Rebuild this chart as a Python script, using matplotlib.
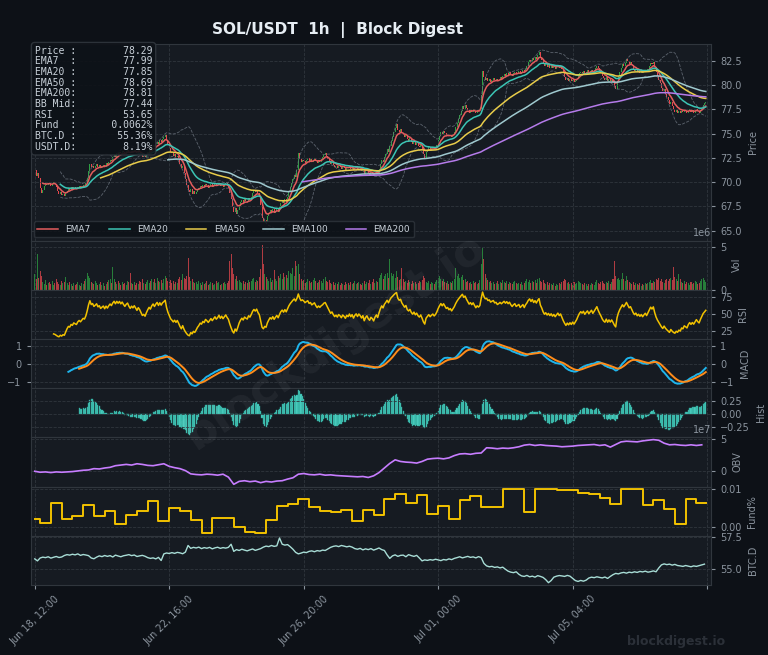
import numpy as np
import pandas as pd
import matplotlib
matplotlib.use('Agg')
import matplotlib.pyplot as plt
import matplotlib.dates as mdates

# hourly closes, Jun 18 12:00 onwards (one row = one day)
closes = [
    71.25, 70.62, 70.95, 70.41, 69.35, 68.92, 69.18, 69.64, 69.85, 69.71, 69.93, 69.88, 69.62, 69.79, 70.02, 69.84, 69.45, 69.03, 68.81, 68.95, 68.62, 68.74, 68.55, 68.83,
    69.12, 69.34, 69.21, 69.45, 69.30, 69.52, 69.38, 69.27, 69.49, 69.61, 69.44, 69.58, 69.72, 69.65, 69.91, 70.38, 71.15, 71.88, 71.52, 71.70, 71.43, 71.62, 71.85, 71.57,
    71.74, 71.49, 71.66, 71.81, 71.58, 71.92, 71.75, 72.05, 72.31, 72.18, 72.56, 72.83, 72.64, 73.02, 72.88, 73.15, 72.97, 73.24, 73.06, 72.91, 73.18, 73.35, 73.12, 72.95,
    73.21, 73.08, 73.33, 73.15, 72.98, 73.26, 73.11, 72.87, 72.62, 72.71, 72.55, 72.84, 73.12, 73.38, 73.25, 73.61, 73.84, 73.66, 73.95, 74.18, 73.97, 74.32, 74.15, 74.46,
    74.62, 74.85, 74.31, 73.88, 73.52, 73.14, 72.95, 72.71, 72.86, 72.58, 72.74, 72.36, 71.85, 71.42, 71.68, 70.95, 70.31, 69.72, 69.18, 68.95, 69.24, 68.82, 69.05, 68.74,
    68.96, 69.21, 69.38, 69.62, 69.45, 69.71, 69.53, 69.84, 69.66, 69.42, 69.58, 69.77, 69.51, 69.68, 69.86, 69.59, 69.73, 69.95, 69.62, 69.81, 69.54, 69.70, 69.88, 69.63,
    69.42, 68.85, 68.21, 67.45, 66.92, 67.28, 66.75, 67.12, 67.58, 67.91, 68.15, 67.86, 68.22, 68.05, 67.92, 68.31, 68.12, 68.44, 68.86, 69.12, 68.94, 69.21, 68.83, 68.57,
    67.65, 66.28, 65.84, 66.12, 65.91, 66.45, 66.82, 67.15, 66.91, 67.24, 66.78, 67.06, 67.32, 66.95, 67.41, 67.86, 68.12, 67.84, 68.25, 67.96, 68.48, 69.05, 69.52, 69.91,
    70.35, 70.72, 70.48, 71.26, 72.95, 72.41, 72.05, 72.33, 72.18, 71.96, 72.24, 72.47, 72.15, 72.36, 72.08, 72.29, 72.52, 72.21, 71.98, 72.27, 72.12, 72.38, 72.55, 72.84,
    72.96, 72.71, 72.43, 72.15, 71.88, 72.05, 71.76, 71.52, 71.68, 71.45, 71.71, 71.58, 71.36, 71.62, 71.49, 71.27, 71.54, 71.41, 71.65, 71.38, 71.57, 71.22, 71.46, 71.61,
    71.35, 71.58, 71.42, 71.18, 71.39, 70.82, 71.11, 71.27, 70.95, 70.76, 71.02, 70.88, 70.61, 70.93, 71.15, 70.87, 71.34, 71.82, 72.25, 72.06, 72.61, 72.94, 73.38, 73.15,
    73.72, 74.28, 74.65, 75.12, 75.58, 75.96, 75.42, 75.21, 75.46, 75.08, 74.85, 74.62, 74.91, 74.45, 74.28, 74.52, 74.16, 73.94, 74.21, 73.87, 74.08, 73.76, 73.58, 73.82,
    73.41, 72.85, 72.46, 73.12, 73.35, 73.58, 73.29, 73.47, 73.62, 73.38, 73.55, 73.86, 74.32, 74.75, 75.14, 74.92, 75.28, 75.06, 74.81, 74.95, 74.72, 74.88, 74.65, 74.93,
    75.21, 75.68, 76.12, 76.54, 76.95, 77.38, 77.82, 77.56, 77.91, 77.64, 77.42, 77.18, 77.45, 77.26, 77.58, 77.35, 77.12, 77.41, 77.29, 77.52, 78.95, 81.42, 80.86, 80.54,
    80.71, 80.42, 80.63, 80.35, 80.58, 80.76, 80.49, 80.62, 80.38, 80.55, 80.81, 80.67, 80.92, 81.15, 80.98, 81.26, 81.08, 81.34, 81.12, 80.96, 81.21, 81.38, 81.15, 81.29,
    81.42, 81.18, 81.36, 81.55, 81.32, 81.68, 81.94, 82.35, 82.61, 82.42, 82.78, 82.55, 82.86, 82.68, 83.12, 83.45, 82.91, 82.64, 82.25, 81.96, 82.14, 81.88, 82.06, 81.82,
    82.01, 81.75, 81.93, 81.68, 81.86, 82.04, 81.79, 81.95, 81.62, 81.21, 80.85, 80.52, 80.71, 80.45, 80.62, 80.38, 80.57, 80.29, 80.48, 80.66, 80.95, 81.22, 81.41, 81.28,
    81.46, 81.19, 81.37, 81.52, 81.28, 81.45, 81.61, 81.36, 81.55, 81.78, 82.02, 81.74, 81.49, 81.26, 80.95, 80.72, 80.58, 80.81, 80.46, 80.64, 80.39, 80.55, 80.28, 79.92,
    79.65, 80.42, 80.95, 81.38, 81.76, 82.15, 81.94, 82.28, 82.72, 82.45, 82.18, 82.36, 82.05, 81.72, 81.48, 81.66, 81.35, 81.52, 81.28, 81.47, 81.22, 81.41, 81.58, 81.34,
    81.62, 81.95, 82.31, 82.14, 82.42, 81.86, 81.34, 80.92, 80.55, 80.18, 79.72, 79.35, 79.58, 79.12, 78.76, 78.42, 78.05, 78.31, 77.86, 77.52, 77.28, 77.45, 77.18, 77.36,
    77.12, 77.38, 77.21, 77.46, 77.29, 77.08, 77.35, 77.52, 77.26, 77.41, 77.18, 77.36, 77.55, 77.31, 77.14, 77.42, 77.68, 77.95, 78.12, 78.29,
]

# hourly volume in units of 1e5
volumes = [
    18, 12, 42, 14, 22, 16, 9, 7, 11, 6, 8, 9, 7, 10, 6, 8, 12, 9, 7, 6, 10, 8, 9, 15,
    8, 6, 9, 7, 5, 8, 6, 7, 9, 6, 5, 8, 7, 10, 12, 20, 16, 14, 9, 8, 7, 10, 8, 6,
    7, 9, 6, 8, 5, 7, 9, 11, 13, 8, 26, 12, 9, 7, 10, 8, 6, 9, 7, 8, 6, 10, 9, 20,
    8, 7, 9, 6, 8, 7, 10, 9, 12, 8, 7, 9, 11, 8, 10, 13, 9, 12, 8, 14, 10, 9, 11, 8,
    12, 16, 14, 10, 9, 11, 8, 10, 7, 9, 8, 12, 15, 11, 18, 14, 13, 16, 37, 15, 10, 12, 9, 8,
    9, 7, 10, 8, 6, 9, 7, 8, 10, 6, 7, 9, 8, 6, 7, 10, 8, 9, 6, 7, 8, 9, 7, 8,
    10, 33, 42, 25, 18, 12, 16, 10, 11, 9, 8, 10, 7, 9, 8, 11, 9, 10, 12, 14, 9, 11, 10, 15,
    24, 52, 30, 18, 15, 12, 10, 14, 9, 11, 23, 12, 10, 16, 14, 18, 12, 20, 15, 17, 14, 22, 19, 18,
    25, 16, 34, 28, 30, 18, 12, 10, 11, 8, 9, 12, 10, 8, 9, 11, 14, 10, 8, 9, 11, 10, 8, 12,
    15, 10, 9, 11, 8, 7, 9, 6, 8, 7, 9, 6, 8, 7, 6, 9, 7, 8, 6, 9, 7, 8, 10, 7,
    8, 9, 7, 6, 8, 10, 7, 9, 8, 11, 7, 9, 12, 8, 10, 9, 14, 17, 19, 12, 16, 18, 20, 14,
    36, 20, 16, 18, 14, 22, 15, 11, 13, 25, 12, 9, 10, 8, 11, 9, 7, 10, 8, 9, 7, 8, 10, 9,
    11, 16, 14, 9, 8, 10, 7, 9, 8, 7, 9, 11, 14, 16, 13, 10, 12, 9, 8, 10, 7, 9, 8, 10,
    12, 25, 16, 18, 14, 15, 17, 11, 12, 9, 10, 8, 9, 7, 10, 8, 9, 7, 8, 11, 30, 49, 36, 18,
    14, 11, 9, 10, 8, 9, 7, 8, 10, 7, 9, 8, 11, 9, 8, 10, 7, 9, 8, 7, 9, 10, 8, 7,
    8, 7, 9, 6, 8, 10, 12, 9, 11, 8, 10, 9, 11, 8, 12, 14, 10, 9, 11, 8, 7, 9, 6, 8,
    7, 6, 8, 5, 7, 6, 8, 7, 9, 10, 12, 11, 8, 9, 7, 8, 6, 9, 7, 8, 10, 9, 8, 7,
    6, 8, 7, 5, 7, 6, 8, 7, 6, 9, 11, 8, 7, 9, 10, 8, 7, 9, 8, 10, 7, 9, 12, 34,
    16, 12, 14, 11, 13, 20, 12, 10, 16, 11, 9, 8, 7, 9, 6, 8, 7, 6, 8, 5, 7, 6, 8, 7,
    8, 9, 11, 8, 10, 9, 12, 11, 14, 10, 12, 9, 8, 11, 13, 10, 12, 14, 11, 27, 15, 12, 10, 18,
    12, 9, 8, 10, 7, 9, 8, 6, 9, 7, 8, 10, 9, 7, 8, 10, 12, 14, 11, 9,
]

# funding rate %, first value at start then every 8h from 16:00
funding = [
    0.0020, 0.0010, 0.0062, 0.0020, 0.0029, 0.0058, 0.0029, 0.0042, 0.0009, 0.0031,
    0.0043, 0.0067, 0.0017, 0.0049, 0.0042, 0.0018, -0.0017, 0.0023, 0.0023, 0.0001,
    -0.0012, -0.0017, 0.0018, 0.0054, 0.0059, 0.0073, 0.0052, 0.0043, 0.0038, 0.0045,
    0.0016, 0.0045, 0.0031, 0.0074, 0.0087, 0.0062, 0.0083, 0.0033, 0.0056, 0.0020,
    0.0070, 0.0081, 0.0053, 0.0053, 0.0100, 0.0100, 0.0039, 0.0100, 0.0100, 0.0096,
    0.0096, 0.0090, 0.0087, 0.0077, 0.0060, 0.0100, 0.0100, 0.0058, 0.0070, 0.0048,
    0.0009, 0.0072, 0.0062,
]

# OBV, every 4h, units of 1e7
obv = [
    0.0, -0.15, -0.1, -0.2, -0.1, -0.15, -0.1, -0.05, 0.05, 0.15, 0.2, 0.4, 0.35, 0.5, 0.6, 0.85,
    0.95, 1.05, 0.95, 1.15, 1.05, 0.9, 0.85, 1.0, 1.15, 0.75, 0.55, 0.4, 0.1, -0.4, -0.5, -0.55,
    -0.45, -0.5, -0.6, -0.45, -0.9, -2.0, -1.55, -1.45, -1.6, -1.5, -1.75, -1.55, -1.65, -1.5, -1.45, -1.2,
    -1.0, -0.45, -0.35, -0.5, -0.55, -0.45, -0.6, -0.55, -0.65, -0.7, -0.75, -0.8, -0.85, -0.8, -0.95, -0.7,
    -0.2, 0.5, 1.2, 1.75, 1.5, 1.4, 1.35, 1.25, 1.5, 1.85, 1.95, 2.0, 1.9, 2.05, 2.4, 2.65,
    2.7, 2.6, 2.75, 2.8, 3.6, 3.55, 3.45, 3.55, 3.5, 3.6, 3.75, 4.0, 4.1, 3.95, 4.05, 3.95,
    3.9, 3.85, 3.75, 3.8, 3.85, 3.95, 4.0, 4.05, 4.1, 3.95, 4.05, 3.7, 4.1, 4.5, 4.6, 4.55,
    4.5, 4.65, 4.75, 4.85, 4.75, 4.3, 4.05, 4.1, 4.0, 3.95, 4.05, 3.95, 4.05,
]

# BTC dominance %, every 2h
btc_dom = [
    55.78, 55.62, 55.85, 55.92, 55.88, 55.95, 55.84, 55.91, 55.97, 55.89, 55.93, 56.05,
    56.12, 56.08, 56.15, 56.10, 56.18, 56.06, 56.13, 56.09, 56.04, 55.85, 55.79, 55.92,
    56.02, 55.96, 56.05, 55.98, 56.04, 55.93, 56.08, 56.01, 55.95, 56.03, 56.07, 56.12,
    56.04, 56.09, 55.97, 56.02, 56.06, 55.99, 55.88, 55.82, 55.86, 55.78, 55.90, 55.65,
    56.18, 56.25, 56.21, 56.28, 56.22, 56.30, 56.26, 56.19, 56.32, 56.85, 56.62, 56.70,
    56.65, 56.72, 56.60, 56.68, 56.63, 56.70, 56.58, 56.66, 56.71, 56.62, 56.68, 56.64,
    56.70, 56.95, 56.38, 56.52, 56.45, 56.55, 56.48, 56.42, 56.50, 56.57, 56.46, 56.53,
    56.60, 56.72, 56.80, 56.76, 56.85, 56.78, 56.82, 57.45, 56.95, 56.88, 56.92, 56.75,
    56.55, 56.30, 56.18, 56.24, 56.32, 56.28, 56.38, 56.42, 56.35, 56.44, 56.40, 56.48,
    56.45, 56.58, 56.70, 56.78, 56.82, 56.76, 56.85, 56.80, 56.74, 56.79, 56.72, 56.60,
    56.55, 56.62, 56.50, 56.58, 56.52, 56.60, 56.48, 56.56, 56.65, 56.52, 56.45, 56.10,
    55.82, 56.02, 56.10, 55.98, 56.06, 56.08, 55.95, 56.12, 56.04, 55.98, 56.06, 55.85,
    55.62, 55.70, 55.66, 55.72, 55.68, 55.75, 55.70, 55.64, 55.73, 55.69, 55.78, 55.72,
    55.82, 55.88, 55.95, 55.86, 55.92, 55.98, 55.90, 55.94, 55.86, 55.96, 55.88, 55.42,
    55.22, 55.15, 55.18, 55.10, 55.14, 55.06, 55.12, 54.95, 54.80, 54.72, 54.68, 54.75,
    54.55, 54.42, 54.38, 54.46, 54.35, 54.40, 54.32, 54.44, 54.38, 54.30, 54.12, 53.88,
    54.05, 54.32, 54.40, 54.45, 54.42, 54.38, 54.46, 54.40, 54.22, 54.05, 53.98, 54.06,
    54.00, 54.08, 54.25, 54.32, 54.28, 54.35, 54.30, 54.26, 54.33, 54.22, 54.38, 54.52,
    54.62, 54.58, 54.66, 54.70, 54.64, 54.72, 54.68, 54.75, 54.70, 54.78, 54.74, 54.80,
    54.72, 54.76, 54.82, 54.75, 55.05, 55.30, 55.38, 55.32, 55.36, 55.28, 55.34, 55.25,
    55.22, 55.18, 55.25, 55.20, 55.15, 55.22, 55.18, 55.24, 55.30, 55.36,
]

info_labels = ['Price', 'EMA7', 'EMA20', 'EMA50', 'EMA200', 'BB Mid', 'RSI', 'Fund', 'BTC.D', 'USDT.D']
info_values = ['78.29', '77.99', '77.85', '78.69', '78.81', '77.44', '53.65', '0.0062%', '55.36%', '8.19%']

ema_spans = [7, 20, 50, 100, 200]
ema_colors = ['#e35d5d', '#3cc4b4', '#e8cc4a', '#9fc9cf', '#b57bea']

BG = '#0d1117'
PANEL = '#161b22'
EDGE = '#30363d'
TXT = '#8b949e'
UP = '#2ea043'
DOWN = '#e5484d'

t = pd.date_range('2024-06-18 12:00', periods=len(closes), freq='h')
close = pd.Series(closes, index=t)
opn = close.shift(1).fillna(close.iloc[0])
vol = np.array(volumes) * 1e5
up = (close >= opn).values

# indicators
emas = [close.ewm(span=s, adjust=False, min_periods=s).mean() for s in ema_spans]
bb_mid = close.rolling(20).mean()
bb_std = close.rolling(20).std()
delta = close.diff()
gain = delta.clip(lower=0).ewm(alpha=1/14, adjust=False, min_periods=14).mean()
loss = (-delta.clip(upper=0)).ewm(alpha=1/14, adjust=False, min_periods=14).mean()
rsi = 100 - 100 / (1 + gain / loss)
macd = close.ewm(span=12, adjust=False).mean() - close.ewm(span=26, adjust=False).mean()
macd[:25] = np.nan
signal = macd.ewm(span=9, adjust=False, min_periods=9).mean()
hist = macd - signal

fund_t = list(t[[0] + list(range(4, len(t), 8))]) + [t[-1]]
fund_v = funding + [funding[-1]]

plt.rcParams['font.family'] = 'DejaVu Sans'
fig = plt.figure(figsize=(7.68, 6.55), dpi=100, facecolor=BG)
gs = fig.add_gridspec(8, 1, height_ratios=[4, 1, 1, 1, 1, 1, 1, 1], hspace=0.0,
                      left=0.040, right=0.926, top=0.933, bottom=0.107)
axes = [fig.add_subplot(gs[0])]
for k in range(1, 8):
    axes.append(fig.add_subplot(gs[k], sharex=axes[0]))
ax_p, ax_v, ax_r, ax_m, ax_h, ax_o, ax_f, ax_b = axes

w = 0.75 / 24
body_lo = np.minimum(opn.values, close.values)
body_h = np.maximum(np.abs(close.values - opn.values), 0.03)
ax_p.bar(t, body_h, bottom=body_lo, width=w, color=np.where(up, UP, DOWN), linewidth=0)
ax_p.plot(t, bb_mid + 2 * bb_std, color='#6e7681', lw=0.6, ls='--', alpha=0.8)
ax_p.plot(t, bb_mid - 2 * bb_std, color='#6e7681', lw=0.6, ls='--', alpha=0.8)
for s, e, c in zip(ema_spans, emas, ema_colors):
    ax_p.plot(t, e, color=c, lw=1.1, label=f'EMA{s}')
ax_p.set_ylim(63.96, 84.26)
leg = ax_p.legend(loc='lower left', ncol=5, fontsize=6.5, frameon=True, facecolor=BG,
                  edgecolor=EDGE, labelcolor='#c9d1d9', columnspacing=2.0,
                  borderaxespad=0.35, handlelength=2.3)
info = '\n'.join(f'{l:<6}:{v:>13}' for l, v in zip(info_labels, info_values))
ax_p.text(0.006, 0.99, info, transform=ax_p.transAxes, va='top', ha='left',
          family='DejaVu Sans Mono', fontsize=7, color='#c9d1d9', linespacing=1.08,
          bbox=dict(boxstyle='round,pad=0.35', facecolor=BG, edgecolor=EDGE, alpha=0.9),
          zorder=10)

ax_v.bar(t, vol, width=w, color=np.where(up, UP, DOWN), alpha=0.75, linewidth=0)
ax_v.set_ylim(0, vol.max() * 1.1)
ax_v.set_yticks([0, 5e6])

ax_r.plot(t, rsi, color='#f2c200', lw=1.1)
ax_r.set_yticks([25, 50, 75])

ax_m.plot(t, macd, color='#1fb5ec', lw=1.4)
ax_m.plot(t, signal, color='#ff8c1a', lw=1.4)
ax_m.set_yticks([-1, 0, 1])

ax_h.bar(t, hist, width=0.8 / 24, color='#4fd6c6', edgecolor='#2a9d92', linewidth=0.3)
ax_h.set_yticks([-0.25, 0, 0.25])

ax_o.plot(t[::4], np.array(obv) * 1e7, color='#c77dff', lw=1.2)
ax_o.set_yticks([0, 5e7])

ax_f.plot(fund_t, fund_v, drawstyle='steps-post', color='#f2c200', lw=1.4)
ax_f.set_yticks([0.0, 0.01])
ax_f.yaxis.set_major_formatter(matplotlib.ticker.FormatStrFormatter('%.2f'))

ax_b.plot(t[::2], btc_dom, color='#a8ddd6', lw=1.0)
ax_b.set_yticks([55.0, 57.5])

names = ['Price', 'Vol', 'RSI', 'MACD', 'Hist', 'OBV', 'Fund%', 'BTC.D']
for ax, n in zip(axes, names):
    ax.set_facecolor(PANEL)
    ax.yaxis.tick_right()
    ax.yaxis.set_label_position('right')
    ax.set_ylabel(n, color=TXT, fontsize=7)
    ax.tick_params(colors=TXT, labelsize=7, length=3)
    ax.yaxis.get_offset_text().set_color(TXT)
    ax.yaxis.get_offset_text().set_fontsize(7)
    ax.grid(True, color=EDGE, ls='--', lw=0.6)
    for sp in ax.spines.values():
        sp.set_color(EDGE)
    if ax is not ax_b:
        ax.tick_params(axis='x', labelbottom=False)
ax_m.tick_params(axis='y', left=True, labelleft=True)

xt = pd.date_range(t[0], periods=6, freq='100h')
ax_b.set_xticks(xt)
ax_b.set_xticklabels([d.strftime('%b %d, %H:%M') for d in xt[:-1]] + [''])
plt.setp(ax_b.get_xticklabels(), rotation=45, ha='center', fontsize=7)
ax_b.set_xlim(t[0] - pd.Timedelta(hours=3), t[0] + pd.Timedelta(hours=503))

fig.text(0.439, 0.954, 'SOL/USDT  1h  |  Block Digest', ha='center', va='center',
         fontsize=11, fontweight='bold', color='#e6edf3')
fig.text(0.436, 0.478, 'blockdigest.io', ha='center', va='center', rotation=34,
         fontsize=32, fontweight='bold', color='white', alpha=0.05)
fig.text(0.88, 0.021, 'blockdigest.io', ha='center', va='center',
         fontsize=9, fontweight='bold', color='#2b3038')

fig.savefig('out.png', dpi=100, facecolor=BG)
